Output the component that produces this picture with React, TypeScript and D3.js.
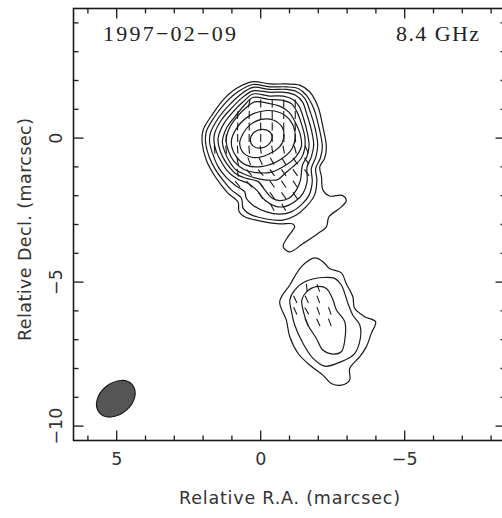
import React from 'react';
import * as d3 from 'd3';

type Pt = [number, number];

// contour levels, [RA, Dec] in marcsec, outermost first
const mainContours: Pt[][] = [
  [[.27,1.96],[-.31,1.88],[-.89,1.88],[-1.35,1.84],[-1.70,1.61],[-1.99,1.09],[-2.16,.39],[-2.28,-.30],[-2.22,-.70],[-2.05,-1.00],[-2.11,-1.34],[-2.16,-1.80],[-2.39,-2.01],[-2.83,-1.99],[-2.97,-2.18],[-2.74,-2.44],[-2.37,-2.73],[-2.28,-3.08],[-1.99,-3.31],[-1.47,-3.66],[-1.01,-3.95],[-.78,-3.77],[-.95,-3.42],[-1.18,-3.08],[-1.12,-2.98],[-.66,-2.98],[-.08,-2.90],[.56,-2.73],[.75,-2.56],[.79,-2.21],[1.13,-1.92],[1.37,-1.63],[1.65,-1.23],[1.89,-.76],[2.03,-.18],[2.00,.28],[1.65,.86],[1.31,1.32],[.85,1.72]],
  [[.27,1.86],[-.31,1.78],[-.89,1.78],[-1.30,1.72],[-1.58,1.49],[-1.84,1.03],[-2.02,.39],[-2.14,-.30],[-2.07,-.70],[-1.91,-1.05],[-1.95,-1.46],[-1.87,-1.98],[-1.58,-2.38],[-1.24,-2.67],[-.77,-2.85],[-.20,-2.81],[.38,-2.64],[.61,-2.44],[.67,-2.09],[1.02,-1.80],[1.31,-1.46],[1.56,-1.11],[1.77,-.70],[1.91,-.18],[1.89,.22],[1.60,.74],[1.25,1.20],[.79,1.61]],
  [[.27,1.76],[-.31,1.69],[-.89,1.69],[-1.26,1.61],[-1.53,1.38],[-1.72,.91],[-1.89,.34],[-1.98,-.24],[-1.91,-.67],[-1.76,-1.05],[-1.79,-1.52],[-1.68,-1.98],[-1.41,-2.32],[-1.06,-2.56],[-.66,-2.64],[-.20,-2.56],[.27,-2.33],[.50,-2.09],[.56,-1.86],[.90,-1.63],[1.22,-1.34],[1.48,-.99],[1.65,-.59],[1.77,-.18],[1.75,.16],[1.48,.68],[1.13,1.11],[.73,1.49]],
  [[.27,1.64],[-.31,1.59],[-.83,1.59],[-1.21,1.49],[-1.45,1.26],[-1.61,.80],[-1.76,.28],[-1.84,-.24],[-1.76,-.65],[-1.61,-.99],[-1.61,-1.51],[-1.47,-1.92],[-1.18,-2.21],[-.83,-2.38],[-.49,-2.36],[-.14,-2.15],[.15,-1.80],[.44,-1.57],[.79,-1.43],[1.13,-1.17],[1.37,-.82],[1.54,-.47],[1.62,-.13],[1.60,.16],[1.37,.62],[1.02,1.03],[.67,1.38]],
  [[.27,1.53],[-.31,1.46],[-.78,1.46],[-1.12,1.34],[-1.33,1.11],[-1.49,.68],[-1.61,.22],[-1.68,-.24],[-1.61,-.62],[-1.45,-.94],[-1.38,-1.46],[-1.24,-1.80],[-.98,-2.09],[-.66,-2.17],[-.40,-2.09],[-.14,-1.80],[.09,-1.51],[.50,-1.40],[.85,-1.25],[1.10,-.99],[1.31,-.67],[1.45,-.30],[1.48,-.01],[1.31,.45],[.96,.91],[.61,1.26]],
  [[.27,1.41],[-.31,1.34],[-.72,1.32],[-1.06,1.20],[-1.26,.91],[-1.41,.51],[-1.53,.05],[-1.53,-.36],[-1.41,-.70],[-1.12,-.99],[-.85,-1.22],[-.60,-1.44],[-.50,-1.46],[-.02,-1.43],[.50,-1.28],[.85,-1.11],[1.08,-.82],[1.25,-.47],[1.33,-.13],[1.19,.34],[.90,.74],[.56,1.15]],
  [[.21,1.26],[-.31,1.20],[-.66,1.11],[-.98,.90],[-1.20,.55],[-1.38,.10],[-1.41,-.30],[-1.22,-.65],[-.85,-.95],[-.37,-1.18],[.15,-1.20],[.56,-1.10],[.92,-.82],[1.12,-.45],[1.20,-.07],[1.08,.36],[.80,.76],[.50,1.06]],
  [[-.14,.95],[-.66,.89],[-1.04,.59],[-1.20,.10],[-1.09,-.36],[-.66,-.76],[-.02,-.99],[.50,-.94],[.88,-.59],[1.02,-.13],[.84,.34],[.38,.78]],
  [[-.02,.65],[-.43,.63],[-.74,.39],[-.81,.05],[-.66,-.30],[-.25,-.57],[.21,-.68],[.58,-.53],[.73,-.18],[.61,.16],[.38,.45]],
  [[-.02,.30],[-.31,.22],[-.40,.05],[-.31,-.18],[-.02,-.34],[.27,-.27],[.36,-.07],[.27,.16]],
];

const lowerContours: Pt[][] = [
  [[-1.87,-4.16],[-2.16,-4.29],[-2.39,-4.53],[-2.80,-4.68],[-2.97,-5.05],[-3.20,-5.51],[-3.26,-5.91],[-3.61,-6.20],[-3.99,-6.38],[-3.84,-6.78],[-3.67,-7.24],[-3.44,-7.59],[-3.09,-8.00],[-3.09,-8.40],[-2.80,-8.58],[-2.45,-8.52],[-2.16,-8.23],[-1.70,-7.88],[-1.30,-7.48],[-1.01,-6.90],[-.89,-6.32],[-.66,-5.68],[-1.01,-5.10],[-1.41,-4.47]],
  [[-2.16,-4.84],[-2.57,-4.87],[-2.80,-5.10],[-3.03,-5.74],[-3.20,-6.15],[-3.44,-6.49],[-3.46,-6.95],[-3.26,-7.48],[-2.80,-7.76],[-2.22,-7.92],[-1.82,-7.65],[-1.47,-7.13],[-1.18,-6.49],[-1.06,-5.97],[-1.01,-5.62],[-1.18,-5.28],[-1.53,-4.99]],
  [[-1.93,-5.16],[-2.28,-5.22],[-2.51,-5.62],[-2.63,-5.97],[-2.92,-6.38],[-2.92,-7.01],[-2.80,-7.42],[-2.51,-7.50],[-2.16,-7.36],[-1.93,-6.95],[-1.64,-6.49],[-1.47,-5.97],[-1.43,-5.62],[-1.59,-5.34]],
];

// polarization sticks: RA, Dec, tilt from vertical in degrees (negative leans like a backslash)
const sticks: [number, number, number][] = [
  [.4,1.2,12],[0,1.2,0],[-.4,1.2,0],[-.8,1.2,0],[-1.2,1.2,0],
  [.8,.8,5],[.4,.8,3],[0,.8,0],[-.4,.8,0],[-.8,.8,0],[-1.2,.8,0],
  [.8,.4,3],[.4,.4,0],[0,.4,0],[-.4,.4,0],[-.8,.4,0],[-1.2,.4,-3],
  [1.2,0,3],[.8,0,0],[.4,0,0],[0,0,0],[-.4,0,0],[-.8,0,-3],[-1.2,0,-5],
  [1.6,-.4,-5],[1.2,-.4,-5],[.8,-.4,-5],[.4,-.4,-5],[0,-.4,-8],[-.4,-.4,-8],[-.8,-.4,-10],[-1.2,-.4,-15],[-1.6,-.4,-25],
  [.8,-.8,-10],[.4,-.8,-20],[0,-.8,-25],[-.4,-.8,-30],[-.8,-.8,-30],[-1.2,-.8,-35],[-1.6,-.8,-35],
  [.8,-1.2,-10],[.4,-1.2,-40],[0,-1.2,-40],[-.4,-1.2,-35],[-.8,-1.2,-35],[-1.2,-1.2,-35],[-1.6,-1.2,-35],
  [.8,-1.6,-40],[.4,-1.6,-40],[0,-1.6,-40],[-.4,-1.6,-35],[-.8,-1.6,-35],[-1.2,-1.6,-35],
  [0,-2,-35],[-.4,-2,-35],[-.8,-2,-35],[-1.2,-2,-35],
  [-.4,-2.4,-30],[-.8,-2.4,-30],
  [-1.6,-5.2,-5],[-2,-5.2,-20],
  [-1.2,-5.6,-25],[-1.6,-5.6,-25],[-2,-5.6,-20],
  [-1.2,-6,-25],[-1.6,-6,-30],[-2,-6,-20],[-2.4,-6,-20],
  [-1.6,-6.4,-25],[-2,-6.4,-25],[-2.4,-6.4,-20],
];

const beam = { ra: 5.03, dec: -9.05, major: 0.75, minor: 0.54, angle: -40 };
const xLabelTicks = [5, 0, -5];
const yLabelTicks = [0, -5, -10];
const epoch = '1997\u221202\u221209';
const band = '8.4 GHz';

const W = 502;
const H = 518;
const x = d3.scaleLinear().domain([6.5, -8.5]).range([73.5, 505.5]);
const y = d3.scaleLinear().domain([4.5, -10.5]).range([8.5, 440.5]);
const STICK = 8;

const contourPath = d3.line<Pt>()
  .x(d => x(d[0]))
  .y(d => y(d[1]))
  .curve(d3.curveCatmullRomClosed.alpha(0.5));

const isMajor = (v: number) => Math.abs(v % 5) < 1e-6;
const sans = '"DejaVu Sans", sans-serif';
const serif = '"Liberation Serif", serif';
const ink = '#1a1a1a';
const textInk = '#333';

const App: React.FC = () => {
  const xTicks = d3.range(-8, 7);
  const yTicks = d3.range(-10, 5);
  const pxPerMas = x(0) - x(1);

  return (
    <svg width={W} height={H} style={{ position: 'absolute', left: 0, top: 0, background: '#fff' }}>
      <rect x={x(6.5)} y={y(4.5)} width={x(-8.5) - x(6.5)} height={y(-10.5) - y(4.5)}
        fill="none" stroke={ink} strokeWidth={1.6} />

      {xTicks.map(t => {
        const len = isMajor(t) ? 10 : 5;
        return (
          <g key={t} stroke={ink} strokeWidth={1.3}>
            <line x1={x(t)} x2={x(t)} y1={y(-10.5)} y2={y(-10.5) - len} />
            <line x1={x(t)} x2={x(t)} y1={y(4.5)} y2={y(4.5) + len} />
          </g>
        );
      })}
      {yTicks.map(t => {
        const len = isMajor(t) ? 10 : 5;
        return (
          <g key={t} stroke={ink} strokeWidth={1.3}>
            <line y1={y(t)} y2={y(t)} x1={x(6.5)} x2={x(6.5) + len} />
            <line y1={y(t)} y2={y(t)} x1={x(-8.5)} x2={x(-8.5) - len} />
          </g>
        );
      })}

      {[...mainContours, ...lowerContours].map((c, i) => (
        <path key={i} d={contourPath(c) || ''} fill="none" stroke={ink} strokeWidth={1.2} />
      ))}

      {sticks.map(([ra, dec, tilt], i) => {
        const a = (tilt * Math.PI) / 180;
        const dx = (Math.sin(a) * STICK) / 2;
        const dy = (Math.cos(a) * STICK) / 2;
        return (
          <line key={i} x1={x(ra) - dx} x2={x(ra) + dx} y1={y(dec) + dy} y2={y(dec) - dy}
            stroke={ink} strokeWidth={1.1} />
        );
      })}

      <ellipse cx={0} cy={0} rx={beam.major * pxPerMas} ry={beam.minor * pxPerMas}
        transform={`translate(${x(beam.ra)},${y(beam.dec)}) rotate(${beam.angle})`}
        fill="#555" stroke={ink} strokeWidth={1.2} />

      {xLabelTicks.map(t => (
        <text key={t} x={x(t)} y={465} textAnchor="middle" fontFamily={sans} fontSize={17.5} fill={textInk}>
          {t < 0 ? `\u2212${-t}` : t}
        </text>
      ))}
      {yLabelTicks.map(t => (
        <text key={t} transform={`translate(62,${y(t)}) rotate(-90)`} textAnchor="middle"
          fontFamily={sans} fontSize={17.5} fill={textInk}>
          {t < 0 ? `\u2212${-t}` : t}
        </text>
      ))}

      <text x={289.5} y={504} textAnchor="middle" fontFamily={sans} fontSize={17.5} fill={textInk}
        textLength={221} lengthAdjust="spacing">Relative R.A. (marcsec)</text>
      <text transform={`translate(31,229.5) rotate(-90)`} textAnchor="middle" fontFamily={sans}
        fontSize={17.5} fill={textInk} textLength={223} lengthAdjust="spacing">Relative Decl. (marcsec)</text>

      <text x={103} y={41} fontFamily={serif} fontSize={22} fill="#222"
        textLength={133} lengthAdjust="spacing">{epoch}</text>
      <text x={396} y={41} fontFamily={serif} fontSize={22} fill="#222"
        textLength={83} lengthAdjust="spacing">{band}</text>
    </svg>
  );
};

export default App;
